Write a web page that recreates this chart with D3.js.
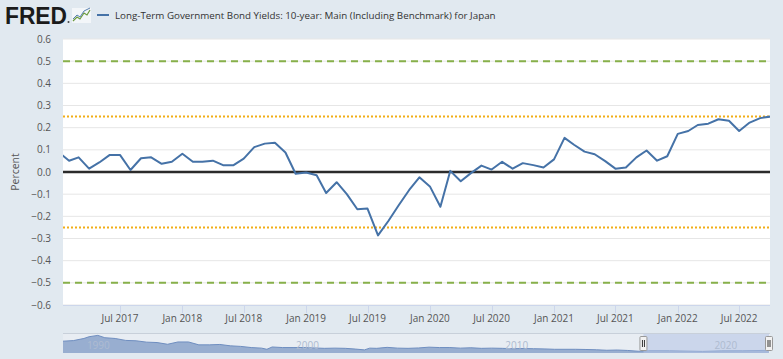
<!DOCTYPE html>
<html><head><meta charset="utf-8">
<script src="https://cdn.jsdelivr.net/npm/d3@7"></script>
<style>
html,body{margin:0;padding:0;background:#e1e9f0;}
svg{display:block;font-family:"Open Sans",sans-serif;}
</style></head><body>
<svg id="c" width="783" height="359"></svg>
<script>
const titleText = "Long-Term Government Bond Yields: 10-year: Main (Including Benchmark) for Japan";
const yAxisTitle = "Percent";
const months = [
 "2017-01","2017-02","2017-03","2017-04","2017-05","2017-06","2017-07","2017-08","2017-09","2017-10","2017-11","2017-12",
 "2018-01","2018-02","2018-03","2018-04","2018-05","2018-06","2018-07","2018-08","2018-09","2018-10","2018-11","2018-12",
 "2019-01","2019-02","2019-03","2019-04","2019-05","2019-06","2019-07","2019-08","2019-09","2019-10","2019-11","2019-12",
 "2020-01","2020-02","2020-03","2020-04","2020-05","2020-06","2020-07","2020-08","2020-09","2020-10","2020-11","2020-12",
 "2021-01","2021-02","2021-03","2021-04","2021-05","2021-06","2021-07","2021-08","2021-09","2021-10","2021-11","2021-12",
 "2022-01","2022-02","2022-03","2022-04","2022-05","2022-06","2022-07","2022-08","2022-09","2022-10"];
const yields = [
 0.090,0.051,0.066,0.015,0.043,0.077,0.077,0.009,0.062,0.066,0.037,0.046,
 0.082,0.046,0.046,0.051,0.031,0.031,0.060,0.112,0.128,0.132,0.088,-0.008,
 -0.002,-0.015,-0.095,-0.046,-0.100,-0.168,-0.165,-0.286,-0.220,-0.150,-0.081,-0.024,
 -0.065,-0.157,0.005,-0.042,-0.005,0.029,0.011,0.046,0.015,0.040,0.031,0.020,
 0.057,0.154,0.123,0.092,0.080,0.049,0.015,0.020,0.066,0.097,0.051,0.071,
 0.172,0.185,0.212,0.218,0.238,0.231,0.185,0.223,0.243,0.250];
const yTicks = [0.6,0.5,0.4,0.3,0.2,0.1,0.0,-0.1,-0.2,-0.3,-0.4,-0.5,-0.6];
const xTicks = ["2017-07","2018-01","2018-07","2019-01","2019-07","2020-01","2020-07","2021-01","2021-07","2022-01","2022-07"];
const greenLines = [0.5,-0.5];
const orangeLines = [0.25,-0.25];
const viewRange = ["2017-01-14","2022-09-30"];
// navigator (full history, approximate)
const navDates = ["1989-01","1989-07","1990-01","1990-04","1990-09","1991-01","1991-07","1992-01","1992-07","1993-01","1993-07","1994-01","1994-07","1995-01","1995-07","1996-01","1996-07","1997-01","1997-07","1998-01","1998-07","1998-10","1999-01","1999-07","2000-01","2000-07","2001-01","2001-07","2002-01","2002-07","2003-01","2003-06","2003-09","2004-01","2004-07","2005-01","2005-07","2006-01","2006-07","2007-01","2007-07","2008-01","2008-07","2009-01","2009-07","2010-01","2010-07","2011-01","2011-07","2012-01","2012-07","2013-01","2013-07","2014-01","2014-07","2015-01","2015-07","2016-01","2016-07","2017-01","2018-01","2019-08","2020-07","2021-07","2022-10"];
const navValues = [5.0,5.3,6.4,7.3,8.0,6.8,6.4,5.4,5.2,4.5,4.3,3.4,4.6,4.6,3.1,3.1,3.3,2.6,2.3,1.7,1.4,0.8,2.0,1.7,1.7,1.7,1.5,1.3,1.4,1.3,0.9,0.5,1.4,1.3,1.8,1.4,1.3,1.5,1.9,1.7,1.7,1.4,1.6,1.3,1.4,1.3,1.1,1.2,1.1,1.0,0.8,0.8,0.8,0.7,0.55,0.3,0.42,0.2,-0.2,0.08,0.07,-0.28,0.03,0.05,0.25];
const navTicks = ["1990","2000","2010","2020"];

const svg = d3.select("#c");
const parse = d3.timeParse("%Y-%m");
const parseD = d3.timeParse("%Y-%m-%d");
const L=63, R=770, T=39, B=305;

const x = d3.scaleTime().domain(viewRange.map(parseD)).range([L,R]);
const y = d3.scaleLinear().domain([-0.6,0.6]).range([B,T]);

// header
svg.append("text").attr("x",5).attr("y",24).attr("font-family","'Liberation Sans',Arial,sans-serif")
  .attr("font-weight","bold").attr("font-size",24).attr("fill","#1b1b1b")
  .attr("textLength",62).attr("lengthAdjust","spacingAndGlyphs").text("FRED");
svg.append("circle").attr("cx",68.5).attr("cy",22).attr("r",1).attr("fill","#444");
const ig = svg.append("g");
ig.append("rect").attr("x",72).attr("y",8).attr("width",19).attr("height",15).attr("fill","#f3f6f9");
ig.append("path").attr("d","M73,21 L77,17 L80,19 L84,13 L87,15 L90,10").attr("fill","none").attr("stroke","#6a9a3c").attr("stroke-width",1.2);
ig.append("path").attr("d","M73,19 L77,15 L80,17 L84,11 L90,8").attr("fill","none").attr("stroke","#4572a7").attr("stroke-width",0.9);
svg.append("line").attr("x1",97).attr("x2",109).attr("y1",15).attr("y2",15).attr("stroke","#4572a7").attr("stroke-width",2);
const tt = svg.append("text").attr("x",115).attr("y",19).attr("font-size",11).attr("fill","#333").text(titleText);
const tw = tt.node().getComputedTextLength();
tt.attr("font-size", 11*381/tw);

// plot background
svg.append("rect").attr("x",L).attr("y",T).attr("width",R-L).attr("height",B-T).attr("fill","#fff");

// grid
svg.append("g").selectAll("line").data(yTicks).join("line")
  .attr("x1",L).attr("x2",R).attr("y1",d=>y(d)).attr("y2",d=>y(d))
  .attr("stroke","#e6e6e6").attr("stroke-width",1);

// y labels
svg.append("g").selectAll("text").data(yTicks).join("text")
  .attr("x",51).attr("y",d=>y(d)+3.5).attr("text-anchor","end")
  .attr("font-size",10).attr("fill","#555").text(d=>d3.format(".1f")(d));
svg.append("text").attr("transform",`translate(19,${(T+B)/2}) rotate(-90)`).attr("text-anchor","middle")
  .attr("font-size",10.5).attr("fill","#555").text(yAxisTitle);

// x axis line + ticks
svg.append("line").attr("x1",L).attr("x2",R).attr("y1",B+0.5).attr("y2",B+0.5).attr("stroke","#ccd6eb");
const xt = xTicks.map(parse);
svg.append("g").selectAll("line").data(xt).join("line")
  .attr("x1",d=>Math.round(x(d))+0.5).attr("x2",d=>Math.round(x(d))+0.5).attr("y1",B).attr("y2",B+8)
  .attr("stroke","#ccd6eb");
svg.append("g").selectAll("text").data(xt).join("text")
  .attr("x",d=>x(d)).attr("y",322).attr("text-anchor","middle")
  .attr("font-size",10).attr("fill","#555").text(d=>d3.timeFormat("%b %Y")(d));

// reference lines
svg.append("g").selectAll("line").data(greenLines).join("line")
  .attr("x1",L).attr("x2",R).attr("y1",d=>y(d)).attr("y2",d=>y(d))
  .attr("stroke","#87b04a").attr("stroke-width",2).attr("stroke-dasharray","7,5");
svg.append("g").selectAll("line").data(orangeLines).join("line")
  .attr("x1",L).attr("x2",R).attr("y1",d=>y(d)).attr("y2",d=>y(d))
  .attr("stroke","#f2ae16").attr("stroke-width",2).attr("stroke-dasharray","2,2");
svg.append("line").attr("x1",L).attr("x2",R).attr("y1",y(0)).attr("y2",y(0))
  .attr("stroke","#2b2b2b").attr("stroke-width",2.5);

// series
svg.append("clipPath").attr("id","pc").append("rect").attr("x",L).attr("y",T).attr("width",R-L).attr("height",B-T);
const data = months.map((m,i)=>({d:parse(m),v:yields[i]}));
svg.append("path").datum(data).attr("clip-path","url(#pc)")
  .attr("fill","none").attr("stroke","#4572a7").attr("stroke-width",2).attr("stroke-linejoin","round")
  .attr("d",d3.line().x(d=>x(d.d)).y(d=>y(d.v)));

// navigator
const NT=333, NB=353;
const nx = d3.scaleTime().domain([parse("1989-01"), parseD("2022-10-20")]).range([L,R]);
const ny = d3.scaleLinear().domain([-0.6,8.2]).range([NB-1,NT+2]);
svg.append("rect").attr("x",L).attr("y",NT).attr("width",R-L).attr("height",NB-NT).attr("fill","#e8edf3");
const nd = navDates.map((m,i)=>({d:parse(m),v:navValues[i]}));
svg.append("path").datum(nd).attr("fill","#8fa6cc").attr("fill-opacity",0.9)
  .attr("d",d3.area().x(d=>nx(d.d)).y0(NB).y1(d=>ny(d.v)));
svg.append("path").datum(nd).attr("fill","none").attr("stroke","#6f8ec0").attr("stroke-width",1)
  .attr("d",d3.line().x(d=>nx(d.d)).y(d=>ny(d.v)));
const s0 = nx(parseD(viewRange[0]))-6, s1 = R-1;
svg.append("rect").attr("x",s0).attr("y",NT).attr("width",s1-s0).attr("height",NB-NT)
  .attr("fill","#b3c3e3").attr("fill-opacity",0.55);
svg.append("g").selectAll("text").data(navTicks).join("text")
  .attr("x",d=>nx(d3.timeParse("%Y")(d))+3).attr("y",349)
  .attr("font-size",10).attr("fill","#aebbd0").text(d=>d);
svg.append("line").attr("x1",L).attr("x2",R).attr("y1",NT+0.5).attr("y2",NT+0.5).attr("stroke","#c8d0da");
[s0,s1].forEach(hx=>{
  svg.append("rect").attr("x",hx-3.5).attr("y",NT+3.5).attr("width",7).attr("height",14)
    .attr("fill","#f2f2f2").attr("stroke","#999").attr("rx",1);
  svg.append("line").attr("x1",hx-1).attr("x2",hx-1).attr("y1",NT+7).attr("y2",NT+14).attr("stroke","#333");
  svg.append("line").attr("x1",hx+1).attr("x2",hx+1).attr("y1",NT+7).attr("y2",NT+14).attr("stroke","#333");
});
</script></body></html>
